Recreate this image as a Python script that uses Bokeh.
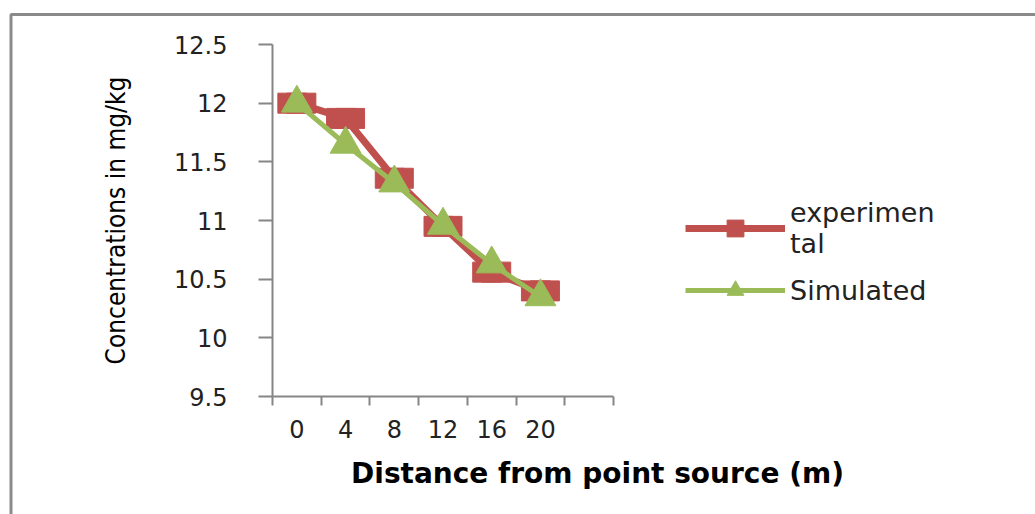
from bokeh.plotting import figure
from bokeh.models import (FixedTicker, Label, Legend, LegendItem, Range1d,
                          ColumnDataSource, BoxAnnotation)
from bokeh.embed import file_html
from bokeh.resources import INLINE

# ---- data ----
categories = ["0", "4", "8", "12", "16", "20"]
experimental = [12.0, 11.87, 11.36, 10.95, 10.56, 10.40]
simulated = [12.0, 11.65, 11.32, 10.96, 10.63, 10.35]
y_ticks = [9.5, 10, 10.5, 11, 11.5, 12, 12.5]
y_tick_labels = ["9.5", "10", "10.5", "11", "11.5", "12", "12.5"]
n_slots = 7  # category slots on the x axis (last one empty)

RED = "#C0504D"
GREEN = "#9BBB59"
AXIS = "#868686"
BORDER = "#8a8a8a"

W, H = 1035, 514          # canvas size
# axis geometry in canvas pixels
AX_LEFT, AX_RIGHT = 272, 613
AX_TOP, AX_BOTTOM = 44, 396
y_lo, y_hi = y_ticks[0], y_ticks[-1]
xs = (AX_RIGHT - AX_LEFT) / n_slots
ys = (AX_BOTTOM - AX_TOP) / (y_hi - y_lo)
x_range = Range1d(-AX_LEFT / xs, (W - AX_LEFT) / xs)
y_range = Range1d(y_lo - (H - AX_BOTTOM) / ys, y_hi + AX_TOP / ys)


def px_x(px):
    return (px - AX_LEFT) / xs


def px_y(py):
    return y_lo + (AX_BOTTOM - py) / ys


xpos = [i + 0.5 for i in range(len(categories))]
src = ColumnDataSource(dict(x=xpos, exp=experimental, sim=simulated))

p = figure(width=W, height=H, output_backend="svg", toolbar_location=None,
           x_range=x_range, y_range=y_range,
           min_border_left=0, min_border_right=0, min_border_top=0,
           min_border_bottom=0)
p.grid.visible = False
p.outline_line_color = None
p.background_fill_color = "white"
p.border_fill_color = "white"

# chart-area border (only its left and top edges fall inside the picture)
p.add_layout(BoxAnnotation(left=px_x(10.5), top=px_y(14), right=px_x(W + 20),
                           bottom=px_y(H + 20), fill_alpha=0,
                           line_color=BORDER, line_alpha=1.0, line_width=3))

# x axis: labels at slot centres, ticks at slot boundaries
xa = p.xaxis[0]
xa.fixed_location = y_lo
xa.bounds = (0, n_slots)
xa.ticker = FixedTicker(ticks=xpos, minor_ticks=list(range(n_slots + 1)))
xa.major_label_overrides = {x: c for x, c in zip(xpos, categories)}
xa.major_tick_out = 0
xa.major_tick_in = 0
xa.minor_tick_out = 9
xa.minor_tick_in = 0
xa.minor_tick_line_color = AXIS
xa.minor_tick_line_width = 2
xa.axis_line_color = AXIS
xa.axis_line_width = 2
xa.major_label_text_font = "DejaVu Sans"
xa.major_label_text_font_size = "24px"
xa.major_label_text_color = "#222222"
xa.major_label_standoff = 14

ya = p.yaxis[0]
ya.fixed_location = 0
ya.bounds = (y_lo, y_hi)
ya.ticker = FixedTicker(ticks=y_ticks)
ya.major_label_overrides = {t: s for t, s in zip(y_ticks, y_tick_labels)}
ya.major_tick_out = 14
ya.major_tick_in = 0
ya.minor_tick_out = 0
ya.minor_tick_in = 0
ya.major_tick_line_color = AXIS
ya.major_tick_line_width = 2
ya.axis_line_color = AXIS
ya.axis_line_width = 2
ya.major_label_text_font = "DejaVu Sans"
ya.major_label_text_font_size = "24px"
ya.major_label_text_color = "#222222"
ya.major_label_standoff = 31
ya.axis_label = "Concentrations in mg/kg"
ya.axis_label_text_font = "'DejaVu Sans Condensed', 'DejaVu Sans', sans-serif"
ya.axis_label_text_font_size = "26px"
ya.axis_label_text_font_style = "normal"
ya.axis_label_text_color = "black"
ya.axis_label_standoff = 40

# series
l1 = p.line("x", "exp", source=src, line_color=RED, line_width=7)
sq = p.scatter("x", "exp", source=src, marker="square", size=20,
               fill_color=RED, line_color=RED)
p.rect("x", "exp", source=src, width=38, height=20, width_units="screen",
       height_units="screen", fill_color=RED, line_color=RED)
l2 = p.line("x", "sim", source=src, line_color=GREEN, line_width=5)
tri = p.scatter("x", "sim", source=src, marker="triangle", size=31,
                fill_color=GREEN, line_color=GREEN)

# x axis title (placed right of the axis centre, as in the reference)
p.add_layout(Label(x=px_x(597), y=px_y(473),
                   text="Distance from point source (m)", text_align="center",
                   text_baseline="middle", text_font="DejaVu Sans",
                   text_font_size="28px", text_font_style="bold",
                   text_color="black"))

legend = Legend(items=[LegendItem(label="experimen\ntal", renderers=[l1, sq]),
                       LegendItem(label="Simulated", renderers=[l2, tri])],
                location=(685, 203), orientation="vertical",
                border_line_color=None, background_fill_alpha=0,
                glyph_width=100, glyph_height=42, label_standoff=5,
                spacing=10, padding=0, margin=0,
                label_text_font="DejaVu Sans", label_text_font_size="27px",
                label_text_color="#222222")
p.add_layout(legend, "center")

open("out.html", "w").write(file_html(p, INLINE))
